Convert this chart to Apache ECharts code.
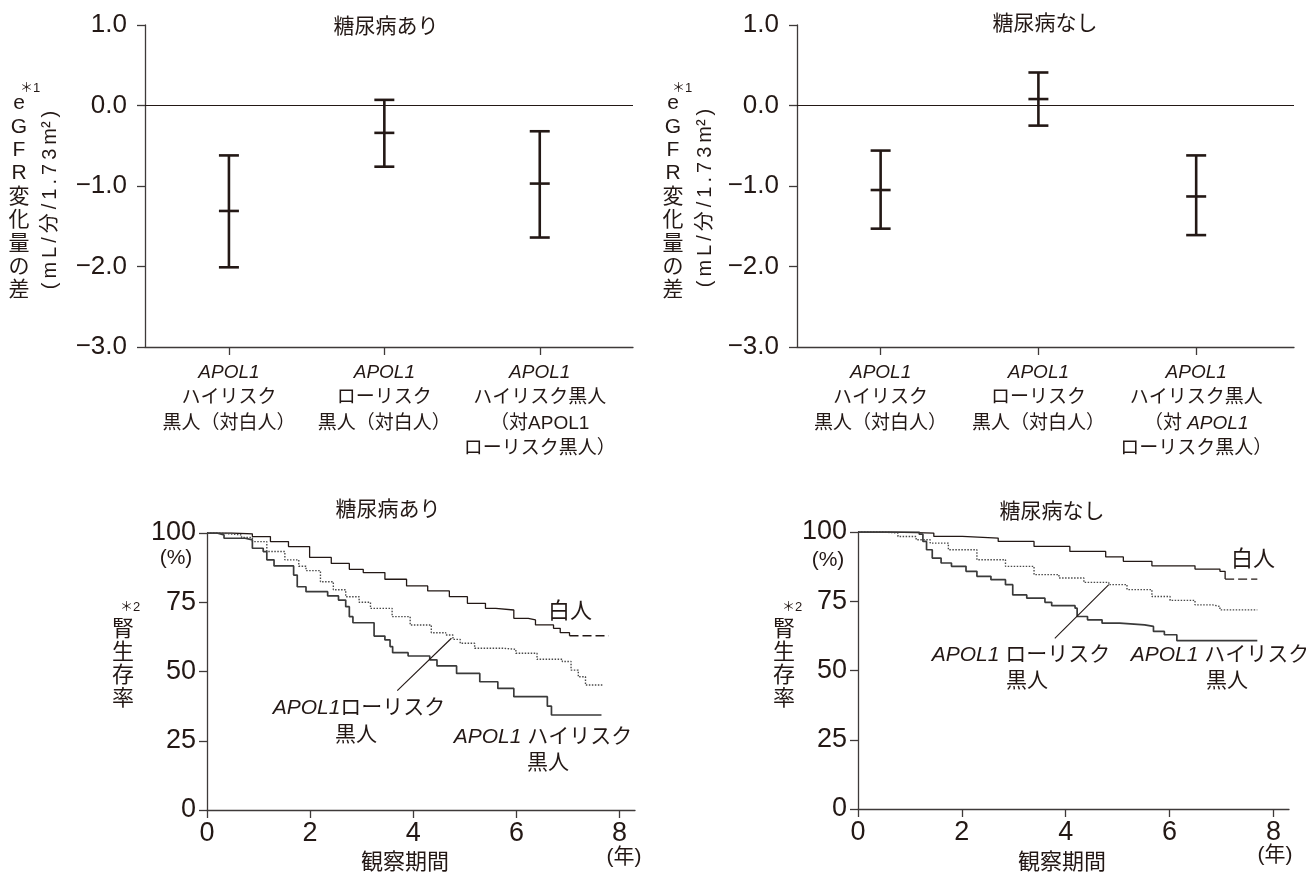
<!DOCTYPE html>
<html><head><meta charset="utf-8">
<script src="https://cdn.jsdelivr.net/npm/echarts@6/dist/echarts.min.js"></script>
<style>html,body{margin:0;padding:0;background:#fff}#c{width:1306px;height:874px}</style>
</head><body><div id="c"></div>
<script>
// ---------- DATA ----------
const topCategories = [1, 2, 3];
const catLabelsLeft = ['APOL1\nハイリスク\n黒人（対白人）', 'APOL1\nローリスク\n黒人（対白人）', 'APOL1\nハイリスク黒人\n（対APOL1\nローリスク黒人）'];
const catLabelsRight = ['APOL1\nハイリスク\n黒人（対白人）', 'APOL1\nローリスク\n黒人（対白人）', 'APOL1\nハイリスク黒人\n（対 APOL1\nローリスク黒人）'];
// [lower, mean, upper]
const dmLower = [-2.01, -0.76, -1.64];
const dmMean  = [-1.31, -0.34, -0.97];
const dmUpper = [-0.62, 0.07, -0.32];
const ndLower = [-1.53, -0.25, -1.61];
const ndMean  = [-1.05, 0.08, -1.13];
const ndUpper = [-0.56, 0.41, -0.62];
const topYTicks = [-3, -2, -1, 0, 1];
const kmXTicks = [0, 2, 4, 6, 8];
const kmYTicks = [0, 25, 50, 75, 100];

// Kaplan–Meier curves [years, %]
const dmWhite = [[0,100],[0.47,99.7],[0.88,98.7],[1.23,96.9],[1.58,95.1],[1.99,91.2],[2.41,89],[2.76,86.9],[3.03,85.7],[3.45,83.3],[3.87,80.9],[4.28,79.1],[4.7,77],[5.05,74.6],[5.4,72.8],[5.6,72.2],[5.95,69.2],[6.23,68.6],[6.37,66.8],[6.72,65.6],[6.85,64],[7.03,62.9]];
const dmWhiteTail = [[7.03,62.9],[7.79,62.9]];
const dmLow = [[0,100],[0.26,99.3],[0.67,98.4],[0.88,96.9],[1.16,93.3],[1.51,90.3],[1.78,88],[1.92,86.4],[2.2,82.4],[2.45,79.5],[2.69,77],[2.95,75],[3.17,72.8],[3.59,69.8],[3.94,66.8],[4.35,64],[4.63,63.2],[4.77,61.6],[4.91,60.2],[5.19,58.4],[5.74,58],[5.99,56.6],[6.4,54.4],[6.89,53.6],[7.06,50.5],[7.2,48.1],[7.34,45.1],[7.69,45.1]];
const dmHigh = [[0,100],[0.19,99.3],[0.33,98.1],[0.74,97.5],[0.88,94.5],[1.09,93.3],[1.16,90.3],[1.3,88.1],[1.68,84.8],[1.75,80.6],[1.92,78.8],[2.34,77.3],[2.55,75.8],[2.69,73.4],[2.76,69.8],[2.83,67.6],[3.24,62.8],[3.45,61.4],[3.55,59],[3.6,56.8],[3.9,55.6],[4.32,54.2],[4.46,52],[4.84,49.3],[5.29,46.3],[5.64,43.9],[5.95,40.9],[6.6,37.5],[6.68,34.3],[7.65,34.3]];
const ndWhite = [[0,100],[0.63,99.8],[1.12,99.6],[1.46,98.4],[2.01,97.8],[2.7,96.6],[3.39,94.8],[4.08,93],[4.77,91],[5.11,89.4],[5.66,87.8],[6.49,86.6],[6.97,85.8],[7.07,83]];
const ndWhiteTail = [[7.07,83],[7.69,83]];
const ndLow = [[0,100],[0.5,99.6],[0.77,98.4],[1.12,97.2],[1.39,96],[1.74,93.6],[2.29,90],[2.84,87.6],[3.39,84.6],[3.87,83.4],[4.35,81.8],[4.83,81],[5.18,79.2],[5.66,76.7],[6.01,75.3],[6.49,73.7],[6.83,73.1],[6.97,71.9],[7.69,71.9]];
const ndHigh = [[0,100],[1.18,99.2],[1.25,96.6],[1.32,93.6],[1.43,90.6],[1.6,88.8],[1.8,87.6],[2.08,85.8],[2.29,84],[2.56,82.8],[2.84,81],[2.98,77.3],[3.25,76.1],[3.6,74.6],[3.73,73.4],[4.18,72.5],[4.22,69.5],[4.42,68.3],[4.7,67.1],[5.04,66.5],[5.52,65.9],[5.69,64.1],[5.9,62.9],[6.14,60.8],[7.69,60.8]];
// annotation pointer lines [years, %]
const dmPointer = [[4.74,62],[3.69,43.1]];
const ndPointer = [[4.83,81],[3.79,61.6]];

// ---------- STYLE ----------
const INK = '#231815';
const AXIS = '#3e3a39';
const FONT = "'Liberation Sans','Noto Sans CJK JP',sans-serif";

function fmtTop(v){ return (v < 0 ? '\u2212' : '') + Math.abs(v).toFixed(1); }
function richLabel(s, italicAll){
  const lines = s.split('\n');
  return lines.map((l, i) => {
    if (i === 0 || italicAll) return l.replace('APOL1', '{i|APOL1}');
    return l;
  }).join('\n');
}

function errRender(params, api){
  const x = api.value(0), lo = api.value(1), mid = api.value(2), hi = api.value(3);
  const a = api.coord([x, hi]), b = api.coord([x, lo]), m = api.coord([x, mid]);
  const hw = 10;
  const st = {stroke: INK, lineWidth: 2.6, fill: null};
  return {type:'group', children:[
    {type:'line', shape:{x1:a[0],y1:a[1],x2:b[0],y2:b[1]}, style:st},
    {type:'line', shape:{x1:a[0]-hw,y1:a[1],x2:a[0]+hw,y2:a[1]}, style:st},
    {type:'line', shape:{x1:b[0]-hw,y1:b[1],x2:b[0]+hw,y2:b[1]}, style:st},
    {type:'line', shape:{x1:m[0]-hw,y1:m[1],x2:m[0]+hw,y2:m[1]}, style:st}
  ]};
}

const axisLineS = {show:true, onZero:false, lineStyle:{color:AXIS, width:1.3}};
const axisTickS = {show:true, inside:false, length:8, lineStyle:{color:AXIS, width:1.3}};

function topX(gi, labels, italicAll, mn, mx){
  return {gridIndex:gi, type:'value', min:mn, max:mx,
    axisLine:axisLineS, splitLine:{show:false},
    axisTick:Object.assign({}, axisTickS, {customValues: topCategories}),
    axisLabel:{customValues: topCategories, margin:13, color:INK, fontFamily:FONT, fontSize:19, lineHeight:25.5,
      formatter:(v)=>richLabel(labels[Math.round(v)-1], italicAll),
      rich:{i:{fontStyle:'italic', fontFamily:FONT, fontSize:19, lineHeight:25.5, color:INK}}}};
}
function topY(gi){
  return {gridIndex:gi, type:'value', min:-3, max:1, interval:1,
    axisLine:axisLineS, axisTick:axisTickS, splitLine:{show:false},
    axisLabel:{margin:18, color:INK, fontFamily:FONT, fontSize:26, formatter:fmtTop}};
}
function kmX(gi){
  return {gridIndex:gi, type:'value', min:0, max:8.3,
    axisLine:axisLineS, splitLine:{show:false},
    axisTick:Object.assign({}, axisTickS, {customValues:kmXTicks}),
    axisLabel:{customValues:kmXTicks, margin:10, color:INK, fontFamily:FONT, fontSize:27}};
}
function kmY(gi){
  return {gridIndex:gi, type:'value', min:0, max:100, interval:25,
    axisLine:axisLineS, axisTick:axisTickS, splitLine:{show:false},
    axisLabel:{margin:11, color:INK, fontFamily:FONT, fontSize:27}};
}

function errSeries(gi, lo, mid, hi){
  return {type:'custom', xAxisIndex:gi, yAxisIndex:gi, renderItem:errRender,
    encode:{x:0, y:[1,2,3]},
    data: topCategories.map((c,i)=>[c, lo[i], mid[i], hi[i]]),
    markLine:{silent:true, symbol:['none','none'], label:{show:false},
      lineStyle:{color:INK, width:1.2, type:'solid'}, data:[{yAxis:0}]}};
}
function kmLine(gi, data, style){
  return {type:'line', xAxisIndex:gi, yAxisIndex:gi, step:'end', showSymbol:false, symbol:'none',
    data:data, lineStyle:style, silent:true, animation:false};
}
function ptrLine(gi, data){
  return {type:'line', xAxisIndex:gi, yAxisIndex:gi, showSymbol:false, symbol:'none',
    data:data, lineStyle:{color:INK, width:1.1}, silent:true, animation:false};
}

const whiteS = {color:INK, width:1.3};
const whiteTailS = {color:INK, width:1.3, type:[9,4]};
const lowS = {color:'#4a4a4a', width:1.4, type:[1.5,1.5]};
const highS = {color:'#3a3a3a', width:1.7};

function txt(x, y, text, size, extra){
  return {type:'text', x:x, y:y, silent:true, style:Object.assign({text:text, x:0, y:0, fill:INK,
    fontFamily:FONT, fontSize:size, align:'center', verticalAlign:'middle',
    rich:{i:{fontStyle:'italic', fontFamily:FONT, fontSize:size, fill:INK}}}, extra||{})};
}
function rtxt(x, y, text, size){
  return {type:'text', x:x, y:y, rotation:Math.PI/2, silent:true,
    style:{text:text, x:0, y:0, fill:INK, fontFamily:FONT, fontSize:size, align:'center', verticalAlign:'middle'}};
}
const TS = '\u2009';
const unitText = ['(', 'm', 'L', '/', '分', '/', '1', '.', '7', '3', 'm²', ')'].join(TS);
const egfrCol = 'e\nG\nF\nR\n変\n化\n量\nの\n差';
const kidneyCol = '腎\n生\n存\n率';

const chart = echarts.init(document.getElementById('c'), null, {renderer:'canvas'});
chart.setOption({
  animation:false,
  backgroundColor:'#fff',
  grid:[
    {left:145, top:25, width:488, height:322, outerBoundsMode:'none', containLabel:false},
    {left:797, top:25, width:497, height:322, outerBoundsMode:'none', containLabel:false},
    {left:207, top:533, width:428, height:277, outerBoundsMode:'none', containLabel:false},
    {left:858, top:532, width:431, height:277, outerBoundsMode:'none', containLabel:false}
  ],
  xAxis:[topX(0, catLabelsLeft, false, 0.46, 3.6), topX(1, catLabelsRight, true, 0.47, 3.62), kmX(2), kmX(3)],
  yAxis:[topY(0), topY(1), kmY(2), kmY(3)],
  series:[
    errSeries(0, dmLower, dmMean, dmUpper),
    errSeries(1, ndLower, ndMean, ndUpper),
    kmLine(2, dmWhite, whiteS), kmLine(2, dmWhiteTail, whiteTailS), kmLine(2, dmLow, lowS), kmLine(2, dmHigh, highS), ptrLine(2, dmPointer),
    kmLine(3, ndWhite, whiteS), kmLine(3, ndWhiteTail, whiteTailS), kmLine(3, ndLow, lowS), kmLine(3, ndHigh, highS), ptrLine(3, ndPointer)
  ],
  graphic:[
    // top-left
    txt(386, 27, '糖尿病あり', 21),
    txt(19, 197, egfrCol, 21, {lineHeight:23.4}),
    txt(30, 88, '＊1', 13),
    rtxt(50, 200, unitText, 20),
    // top-right
    txt(1045, 24, '糖尿病なし', 21),
    txt(673, 197, egfrCol, 21, {lineHeight:23.4}),
    txt(682, 88, '＊1', 13),
    rtxt(705, 198, unitText, 20),
    // bottom-left
    txt(388, 510, '糖尿病あり', 21),
    txt(176, 558, '(%)', 21),
    txt(123, 664, kidneyCol, 22, {lineHeight:23}),
    txt(130, 607, '＊2', 13),
    txt(570, 612, '白人', 22),
    txt(359, 708, '{i|APOL1}ローリスク', 21),
    txt(356, 735, '黒人', 21),
    txt(543, 737, '{i|APOL1} ハイリスク', 21),
    txt(548, 763, '黒人', 21),
    txt(405, 863, '観察期間', 22),
    txt(624, 857, '(年)', 21),
    // bottom-right
    txt(1052, 512, '糖尿病なし', 21),
    txt(828, 560, '(%)', 21),
    txt(784, 664, kidneyCol, 22, {lineHeight:23}),
    txt(792, 607, '＊2', 13),
    txt(1253, 560, '白人', 22),
    txt(1021, 655, '{i|APOL1} ローリスク', 21),
    txt(1027, 681, '黒人', 21),
    txt(1220, 655, '{i|APOL1} ハイリスク', 21),
    txt(1227, 681, '黒人', 21),
    txt(1062, 863, '観察期間', 22),
    txt(1275, 855, '(年)', 21)
  ]
});
</script></body></html>
